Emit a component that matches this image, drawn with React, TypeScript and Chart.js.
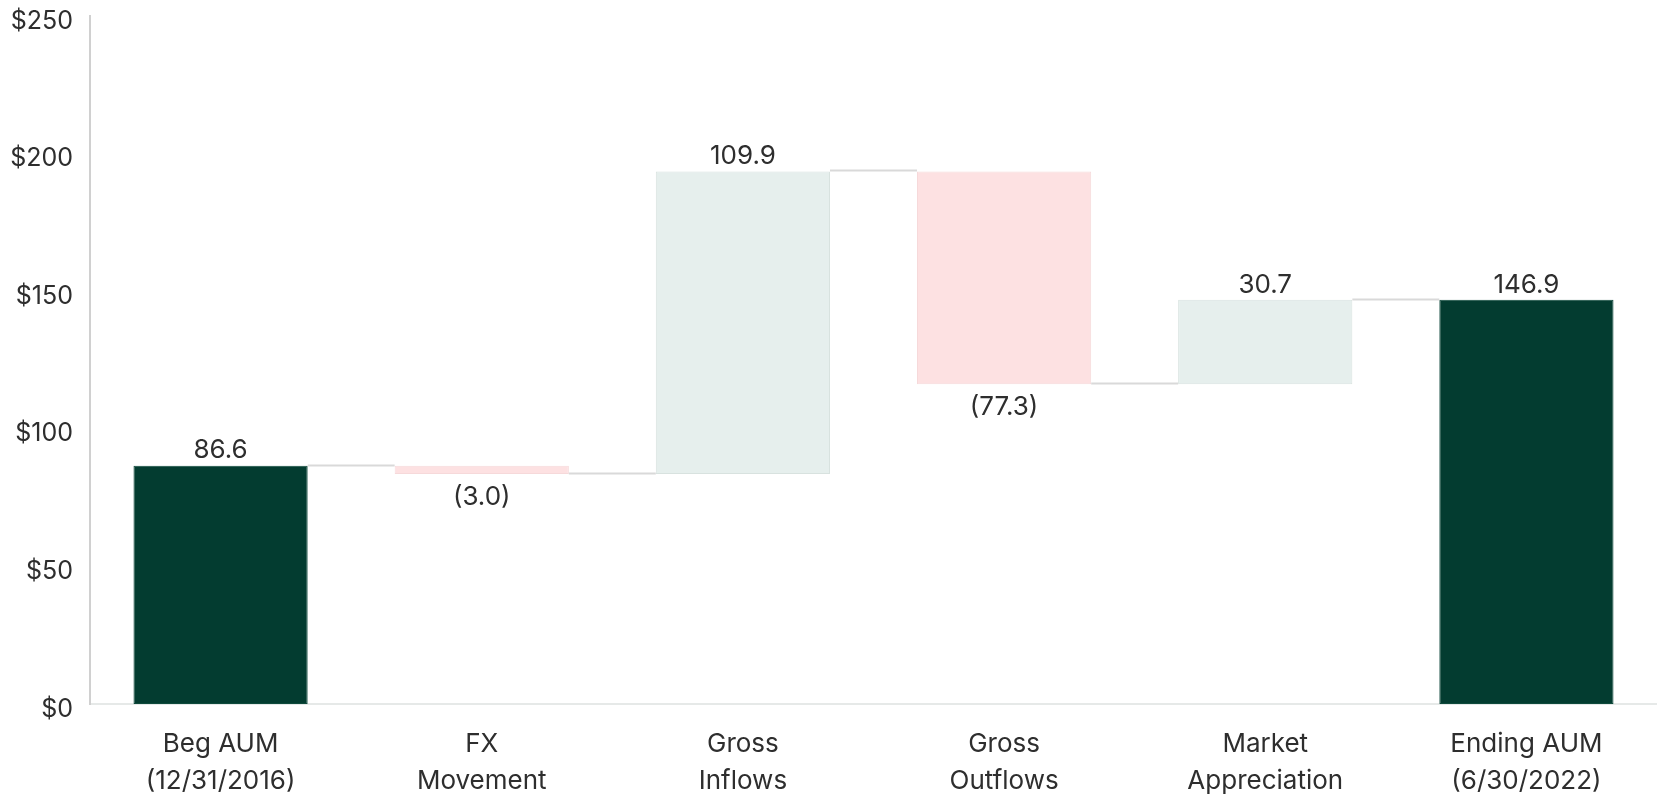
import React, { useEffect, useRef } from "react";
import { Chart, registerables } from "chart.js";

Chart.register(...registerables);

const categories: string[][] = [
  ["Beg AUM", "(12/31/2016)"],
  ["FX", "Movement"],
  ["Gross", "Inflows"],
  ["Gross", "Outflows"],
  ["Market", "Appreciation"],
  ["Ending AUM", "(6/30/2022)"],
];
const changes: number[] = [86.6, -3.0, 109.9, -77.3, 30.7, 146.9];
const isTotal: boolean[] = [true, false, false, false, false, true];
const yTicks: number[] = [0, 50, 100, 150, 200, 250];

const DARK = "#033c30";
const POS = "#e6efed";
const NEG = "#fde1e2";
const FONT = "Inter, 'Noto Sans', sans-serif";

function buildRanges() {
  const ranges: [number, number][] = [];
  let level = 0;
  changes.forEach((c, i) => {
    if (isTotal[i]) {
      ranges.push([0, c]);
      level = c;
    } else {
      const next = +(level + c).toFixed(1);
      ranges.push([Math.min(level, next), Math.max(level, next)]);
      level = next;
    }
  });
  return ranges;
}

function fmt(v: number) {
  return v < 0 ? `(${Math.abs(v).toFixed(1)})` : v.toFixed(1);
}

export default function App() {
  const ref = useRef<HTMLCanvasElement | null>(null);
  useEffect(() => {
    if (!ref.current) return;
    const ranges = buildRanges();
    const levels: number[] = [];
    let lv = 0;
    changes.forEach((c, i) => {
      lv = isTotal[i] ? c : +(lv + c).toFixed(1);
      levels.push(lv);
    });
    const colors = changes.map((c, i) => (isTotal[i] ? DARK : c < 0 ? NEG : POS));
    const borders = changes.map((c, i) => (isTotal[i] ? "#0f4a3c" : c < 0 ? "#f6d9da" : "#d8e2df"));

    const overlay = {
      id: "overlay",
      afterDatasetsDraw(chart: any) {
        const { ctx, scales } = chart;
        const meta = chart.getDatasetMeta(0);
        const y = scales.y;
        ctx.save();
        ctx.strokeStyle = "#d9d9d9";
        ctx.lineWidth = 2;
        for (let i = 0; i < meta.data.length - 1; i++) {
          const a = meta.data[i] as any;
          const b = meta.data[i + 1] as any;
          const yy = Math.round(y.getPixelForValue(levels[i])) - 0.5;
          ctx.beginPath();
          ctx.moveTo(a.x + a.width / 2, yy);
          ctx.lineTo(b.x - b.width / 2, yy);
          ctx.stroke();
        }
        ctx.fillStyle = "#2e2e2e";
        ctx.font = `26px ${FONT}`;
        ctx.textAlign = "center";
        ctx.textBaseline = "middle";
        meta.data.forEach((el: any, i: number) => {
          const r = ranges[i];
          const c = changes[i];
          if (c < 0) {
            ctx.fillText(fmt(c), el.x, y.getPixelForValue(r[0]) + 23);
          } else {
            ctx.fillText(fmt(c), el.x, y.getPixelForValue(r[1]) - 15);
          }
        });
        ctx.restore();
      },
    };

    const chart = new Chart(ref.current, {
      type: "bar",
      data: {
        labels: categories,
        datasets: [
          {
            data: ranges as any,
            backgroundColor: colors,
            borderColor: borders,
            borderWidth: 1,
            borderSkipped: false,
            categoryPercentage: 1,
            barPercentage: 0.667,
          },
        ],
      },
      options: {
        animation: false,
        responsive: false,
        maintainAspectRatio: false,
        layout: { padding: { top: 16, right: 0, left: 0, bottom: 0 } },
        plugins: { legend: { display: false }, tooltip: { enabled: false } },
        scales: {
          x: {
            afterFit: (scale: any) => {
              scale.height = 95;
              scale.paddingLeft = 0;
              scale.paddingRight = 0;
            },
            grid: { display: false, drawTicks: false },
            border: { display: true, color: "#e6e9e8", width: 2 },
            ticks: {
              color: "#2e2e2e",
              padding: 22,
              font: { family: FONT, size: 26, lineHeight: 1.42 },
            },
          },
          y: {
            min: 0,
            max: 250,
            afterBuildTicks: (scale: any) => {
              scale.ticks = yTicks.map((v) => ({ value: v }));
            },
            afterFit: (scale: any) => {
              scale.width = 90;
              scale.paddingTop = 0;
              scale.paddingBottom = 0;
            },
            grid: { display: false, drawTicks: false },
            border: { display: true, color: "#d0d0d0", width: 2 },
            ticks: {
              color: "#2e2e2e",
              padding: 17,
              labelOffset: 5,
              font: { family: FONT, size: 25, lineHeight: 1.2 },
              callback: (v: any) => `$${v}`,
            },
          },
        },
      },
      plugins: [overlay],
    });
    return () => chart.destroy();
  }, []);

  return (
    <div style={{ position: "absolute", left: 0, top: 0, width: 1657, height: 799, background: "#fff" }}>
      <canvas ref={ref} width={1657} height={799} style={{ width: 1657, height: 799 }} />
    </div>
  );
}
